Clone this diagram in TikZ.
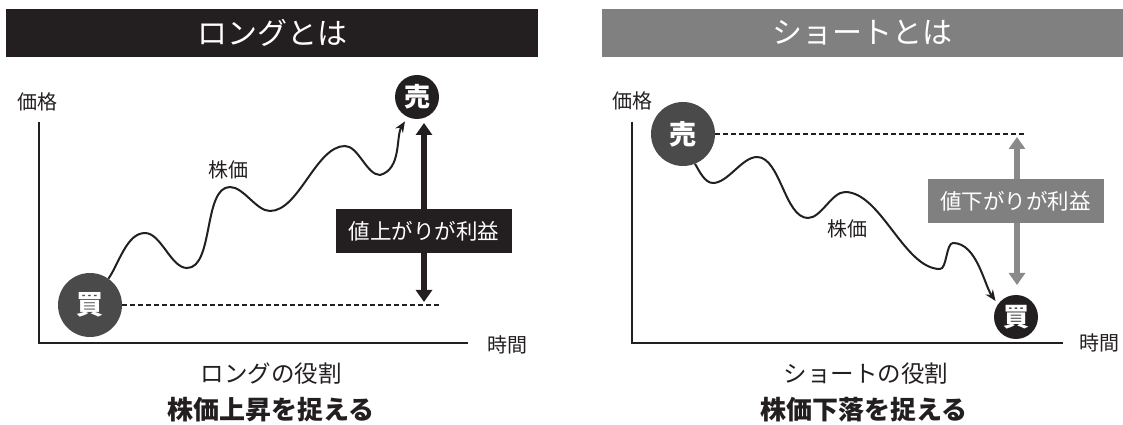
\documentclass[tikz,border=0pt]{standalone}
\usepackage{fontspec}
\setmainfont{Noto Sans CJK JP}
\usetikzlibrary{arrows.meta}
\definecolor{ink}{HTML}{231F20}
\definecolor{dgray}{HTML}{4A4A4A}
\definecolor{mgray}{HTML}{808080}
\definecolor{agray}{HTML}{8A8A8A}
\begin{document}
\begin{tikzpicture}[x=1pt,y=1pt,
  titlebar/.style={rectangle, inner sep=0pt, minimum width=#1, minimum height=48pt, text=white, font=\fontsize{30}{30}\selectfont},
  axislabel/.style={inner sep=0pt, text=ink, font=\fontsize{20}{20}\selectfont},
  bigdot/.style={circle, inner sep=0pt, minimum size=64pt, fill=dgray, text=white, font=\bfseries\fontsize{27}{27}\selectfont},
  smalldot/.style={circle, inner sep=0pt, minimum size=44pt, fill=ink, text=white, font=\bfseries\fontsize{26}{26}\selectfont},
  gainbox/.style={rectangle, inner sep=0pt, minimum width=176pt, minimum height=44pt, text=white, font=\fontsize{21.5}{21.5}\selectfont},
  axisline/.style={draw=ink, line width=2.4pt, line join=miter},
  refline/.style={draw=ink, line width=1.5pt, dash pattern=on 5pt off 3pt},
  priceline/.style={draw=ink, line width=2pt, -{Stealth[length=11pt,width=9pt]}},
  wave/.style={out=0, in=180, looseness=0.75},
  caption/.style={inner sep=0pt, text=ink, font=\fontsize{23.5}{23.5}\selectfont},
  captionbold/.style={inner sep=0pt, text=ink, font=\bfseries\fontsize{26}{26}\selectfont}
]
\useasboundingbox (0,0) rectangle (1123,425);

% ===== Left panel: long =====
\node[titlebar=532pt, fill=ink] (titleL) at (272,392) {ロングとは};
\node[axislabel] (priceL) at (37,323) {価格};
\node[axislabel] (timeL) at (507,80) {時間};
\coordinate (axTopL) at (39,303);
\coordinate (originL) at (39,82);
\coordinate (axEndL) at (468,82);
\draw[axisline] (axTopL) -- (originL) -- (axEndL);

\node[bigdot] (kaiL) at (90,120) {買};
\node[smalldot] (uriL) at (417,328) {売};
\coordinate (dashEndL) at (440,120);
\draw[refline] (kaiL.east) -- (dashEndL);

\coordinate (gTopL) at (424,302);
\coordinate (gBotL) at (424,123);
\draw[draw=ink, line width=6pt, {Triangle[width=16pt,length=12pt]}-{Triangle[width=16pt,length=12pt]}] (gTopL) -- (gBotL);
\node[gainbox, fill=ink] (gainL) at (424,193.5) {値上がりが利益};

\node[axislabel] (kabukaL) at (228,255) {株価};
\draw[priceline, shorten >=5pt] (kaiL.55) to[out=55,in=180,looseness=0.8] (145,192)
  to[wave] (187,157)
  to[wave] (230,238)
  to[wave] (270,214)
  to[wave] (345,279)
  to[wave] (380,250)
  to[out=15,in=238,looseness=0.9] (uriL.-115);

\node[caption] (roleL) at (271,51) {ロングの役割};
\node[captionbold] (catchL) at (271,15) {株価上昇を捉える};

% ===== Right panel: short =====
\node[titlebar=521pt, fill=mgray] (titleR) at (862.5,392) {ショートとは};
\node[axislabel] (priceR) at (632,324) {価格};
\node[axislabel] (timeR) at (1099,82) {時間};
\coordinate (axTopR) at (632,303);
\coordinate (originR) at (632,82);
\coordinate (axEndR) at (1063,82);
\draw[axisline] (axTopR) -- (originR) -- (axEndR);

\node[bigdot] (uriR) at (683,291) {売};
\node[smalldot] (kaiR) at (1016,108) {買};
\coordinate (dashEndR) at (1027,291);
\draw[refline] (uriR.east) -- (dashEndR);

\coordinate (gTopR) at (1017,288);
\coordinate (gBotR) at (1017,140);
\draw[draw=agray, line width=6pt, {Triangle[width=16pt,length=12pt]}-{Triangle[width=16pt,length=12pt]}] (gTopR) -- (gBotR);
\node[gainbox, fill=mgray] (gainR) at (1015.5,224) {値下がりが利益};

\node[axislabel] (kabukaR) at (847,196) {株価};
\draw[priceline, shorten >=4pt] (uriR.-68) to[out=-60,in=180,looseness=0.8] (713,242)
  to[wave] (757,268)
  to[wave] (808,207)
  to[wave] (845,233)
  to[wave] (940,156)
  to[out=0,in=180,looseness=0.6] (953,182)
  to[out=0,in=125,looseness=0.8] (kaiR.145);

\node[caption] (roleR) at (866,51) {ショートの役割};
\node[captionbold] (catchR) at (864,15) {株価下落を捉える};
\end{tikzpicture}
\end{document}
